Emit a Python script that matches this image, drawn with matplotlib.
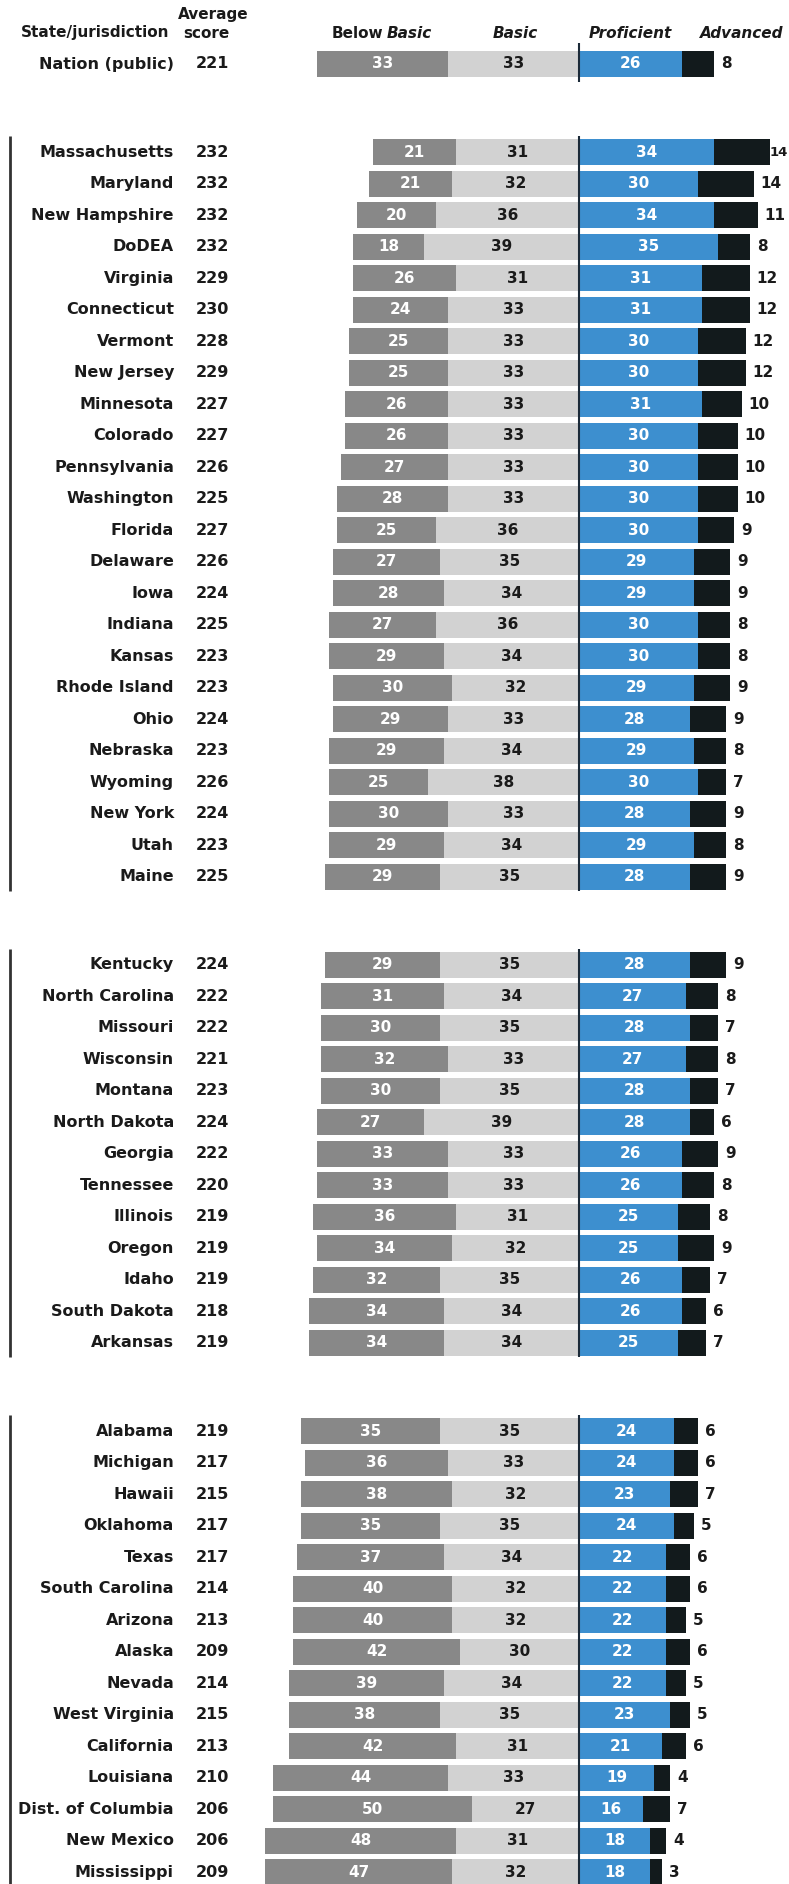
import numpy as np
import matplotlib.pyplot as plt

# Data
states = ['Nation (public)',
          'Massachusetts', 'Maryland', 'New Hampshire', 'DoDEA', 'Virginia', 'Connecticut',
          'Vermont', 'New Jersey', 'Minnesota', 'Colorado', 'Pennsylvania', 'Washington',
          'Florida', 'Delaware', 'Iowa', 'Indiana', 'Kansas', 'Rhode Island', 'Ohio',
          'Nebraska', 'Wyoming', 'New York', 'Utah', 'Maine',
          'Kentucky', 'North Carolina', 'Missouri', 'Wisconsin', 'Montana', 'North Dakota',
          'Georgia', 'Tennessee', 'Illinois', 'Oregon', 'Idaho', 'South Dakota', 'Arkansas',
          'Alabama', 'Michigan', 'Hawaii', 'Oklahoma', 'Texas', 'South Carolina', 'Arizona',
          'Alaska', 'Nevada', 'West Virginia', 'California', 'Louisiana',
          'Dist. of Columbia', 'New Mexico', 'Mississippi']
scores = [221,
          232, 232, 232, 232, 229, 230, 228, 229, 227, 227, 226, 225,
          227, 226, 224, 225, 223, 223, 224, 223, 226, 224, 223, 225,
          224, 222, 222, 221, 223, 224, 222, 220, 219, 219, 219, 218, 219,
          219, 217, 215, 217, 217, 214, 213, 209, 214, 215, 213, 210, 206, 206, 209]
below_basic = [33,
               21, 21, 20, 18, 26, 24, 25, 25, 26, 26, 27, 28,
               25, 27, 28, 27, 29, 30, 29, 29, 25, 30, 29, 29,
               29, 31, 30, 32, 30, 27, 33, 33, 36, 34, 32, 34, 34,
               35, 36, 38, 35, 37, 40, 40, 42, 39, 38, 42, 44, 50, 48, 47]
basic = [33,
         31, 32, 36, 39, 31, 33, 33, 33, 33, 33, 33, 33,
         36, 35, 34, 36, 34, 32, 33, 34, 38, 33, 34, 35,
         35, 34, 35, 33, 35, 39, 33, 33, 31, 32, 35, 34, 34,
         35, 33, 32, 35, 34, 32, 32, 30, 34, 35, 31, 33, 27, 31, 32]
proficient = [26,
              34, 30, 34, 35, 31, 31, 30, 30, 31, 30, 30, 30,
              30, 29, 29, 30, 30, 29, 28, 29, 30, 28, 29, 28,
              28, 27, 28, 27, 28, 28, 26, 26, 25, 25, 26, 26, 25,
              24, 24, 23, 24, 22, 22, 22, 22, 22, 23, 21, 19, 16, 18, 18]
advanced = [8,
            14, 14, 11, 8, 12, 12, 12, 12, 10, 10, 10, 10,
            9, 9, 9, 8, 8, 9, 9, 8, 7, 9, 8, 9,
            9, 8, 7, 8, 7, 6, 9, 8, 8, 9, 7, 6, 7,
            6, 6, 7, 5, 6, 6, 5, 6, 5, 5, 6, 4, 7, 4, 3]
group_sizes = [1, 24, 13, 15]

# layout (pixels of the 789x1884 output)
W, H = 789, 1884
PIVOT, SCALE = 579, 3.97      # pivot x in px, px per percentage point
TOP, ROW = 64, 31.5           # y of first row, row spacing in px
GAP = 2.8                     # rows between groups

def px2x(p):
    return (p - PIVOT) / SCALE

def px2y(p):
    return (p - TOP) / ROW

# row positions with gaps between groups
ypos = []
k = 0.0
for g, n in enumerate(group_sizes):
    if g > 0:
        k += GAP - 1
    for i in range(n):
        ypos.append(k)
        k += 1
ypos = np.array(ypos)

c_below, c_basic, c_prof, c_adv = '#888888', '#d2d2d2', '#3d8fcf', '#121a1c'
font = 'DejaVu Sans'
wt = 'bold'

fig = plt.figure(figsize=(W / 100, H / 100), dpi=100)
ax = fig.add_axes([0, 0, 1, 1])
ax.set_xlim(px2x(0), px2x(W))
ax.set_ylim(px2y(H), px2y(0))
ax.axis('off')

bb = np.array(below_basic)
ba = np.array(basic)
pr = np.array(proficient)
ad = np.array(advanced)
h = 0.83
ax.barh(ypos, bb, left=-(bb + ba), height=h, color=c_below)
ax.barh(ypos, ba, left=-ba, height=h, color=c_basic)
ax.barh(ypos, pr, left=0, height=h, color=c_prof)
ax.barh(ypos, ad, left=pr, height=h, color=c_adv)

tk = dict(fontweight=wt, family=font, va='center')
for y, name, sc, b1, b2, p, a in zip(ypos, states, scores, bb, ba, pr, ad):
    ax.text(px2x(174), y, name, ha='right', fontsize=11.5, color='#1a1a1a', **tk)
    ax.text(px2x(196), y, str(sc), ha='left', fontsize=11.5, color='#1a1a1a', **tk)
    ax.text(-(b2 + b1 / 2), y, str(b1), ha='center', fontsize=11, color='white', **tk)
    ax.text(-b2 / 2, y, str(b2), ha='center', fontsize=11, color='#1a1a1a', **tk)
    ax.text(p / 2, y, str(p), ha='center', fontsize=11, color='white', **tk)
    xa = p + a + 7 / SCALE
    if xa > px2x(W - 20):
        # keep the label inside the picture
        ax.text(px2x(W - 1), y, str(a), ha='right', fontsize=9.5, color='#1a1a1a', **tk)
    else:
        ax.text(xa, y, str(a), ha='left', fontsize=11, color='#1a1a1a', **tk)

# group lines: left rule and pivot rule
start = 0
for g, n in enumerate(group_sizes):
    y0 = ypos[start] - 0.5
    y1 = ypos[start + n - 1] + 0.45
    if g == len(group_sizes) - 1:
        y1 = px2y(H)
    if g == 0:
        y0, y1 = ypos[0] - 0.67, ypos[0] + 0.57
    else:
        ax.plot([px2x(10), px2x(10)], [y0, y1], color='#333333', lw=2, solid_capstyle='butt')
    ax.plot([0, 0], [y0, y1], color='#1b2a38', lw=1.5, solid_capstyle='butt')
    start += n

# headers
hy = px2y(33)
hk = dict(fontsize=11, fontweight=wt, family=font, color='#1a1a1a', va='center')
ax.text(px2x(169), hy, 'State/jurisdiction', ha='right', **hk)
ax.text(px2x(213), px2y(15), 'Average', ha='center', **hk)
ax.text(px2x(206), hy, 'score', ha='center', **hk)
ax.text(px2x(383), hy, 'Below', ha='right', **hk)
ax.text(px2x(387), hy, 'Basic', ha='left', style='italic', **hk)
ax.text(px2x(515), hy, 'Basic', ha='center', style='italic', **hk)
ax.text(px2x(630), hy, 'Proficient', ha='center', style='italic', **hk)
ax.text(px2x(742), hy, 'Advanced', ha='center', style='italic', **hk)

fig.savefig('out.png', dpi=100, facecolor='white')
